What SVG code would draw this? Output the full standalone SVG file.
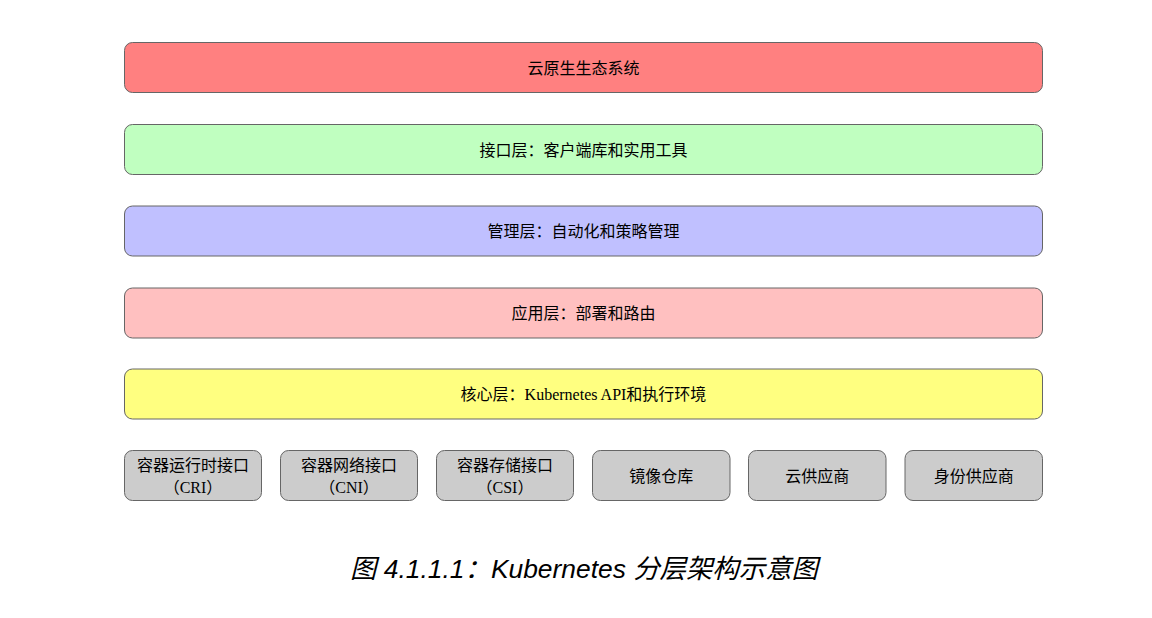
<svg xmlns="http://www.w3.org/2000/svg" width="1152" height="618" viewBox="0 0 1152 618">
<style>
.box{stroke:#666666;stroke-width:1}
.t{font-family:"Liberation Serif","Noto Sans CJK SC",serif;font-size:16px;fill:#000;text-anchor:middle;dominant-baseline:central}
.cap{font-family:"Liberation Sans","Noto Sans CJK SC",sans-serif;font-size:26.4px;font-style:italic;fill:#000;text-anchor:middle}
</style>
<rect width="1152" height="618" fill="#ffffff"/>
<g id="layer-ecosystem"><rect class="box" x="124.5" y="42.5" width="918" height="50" rx="8" fill="#FF8080"/><text class="t" x="583.5" y="68">云原生生态系统</text></g>
<g id="layer-interface"><rect class="box" x="124.5" y="124.5" width="918" height="50" rx="8" fill="#C0FFC0"/><text class="t" x="583.5" y="150">接口层：客户端库和实用工具</text></g>
<g id="layer-management"><rect class="box" x="124.5" y="206" width="918" height="50" rx="8" fill="#C0C0FF"/><text class="t" x="583.5" y="231.5">管理层：自动化和策略管理</text></g>
<g id="layer-application"><rect class="box" x="124.5" y="288" width="918" height="50" rx="8" fill="#FFC0C0"/><text class="t" x="583.5" y="313.5">应用层：部署和路由</text></g>
<g id="layer-core"><rect class="box" x="124.5" y="369" width="918" height="50" rx="8" fill="#FFFF80"/><text class="t" x="583.5" y="394.5">核心层：Kubernetes API和执行环境</text></g>
<g id="cri"><rect class="box" x="124.5" y="450.5" width="137" height="50" rx="8" fill="#CCCCCC"/><text class="t" x="193" y="465.5">容器运行时接口</text><text class="t" x="193" y="487">（CRI）</text></g>
<g id="cni"><rect class="box" x="280.5" y="450.5" width="137" height="50" rx="8" fill="#CCCCCC"/><text class="t" x="349" y="465.5">容器网络接口</text><text class="t" x="349" y="487">（CNI）</text></g>
<g id="csi"><rect class="box" x="436.5" y="450.5" width="137" height="50" rx="8" fill="#CCCCCC"/><text class="t" x="505" y="465.5">容器存储接口</text><text class="t" x="505" y="487">（CSI）</text></g>
<g id="registry"><rect class="box" x="592.5" y="450.5" width="137.5" height="50" rx="8" fill="#CCCCCC"/><text class="t" x="661.2" y="476">镜像仓库</text></g>
<g id="cloud"><rect class="box" x="748.5" y="450.5" width="137.5" height="50" rx="8" fill="#CCCCCC"/><text class="t" x="817.2" y="476">云供应商</text></g>
<g id="identity"><rect class="box" x="905" y="450.5" width="137.5" height="50" rx="8" fill="#CCCCCC"/><text class="t" x="973.7" y="476">身份供应商</text></g>
<g id="connectors"></g>
<text class="cap" x="584" y="578">图 4.1.1.1：Kubernetes 分层架构示意图</text>
</svg>
